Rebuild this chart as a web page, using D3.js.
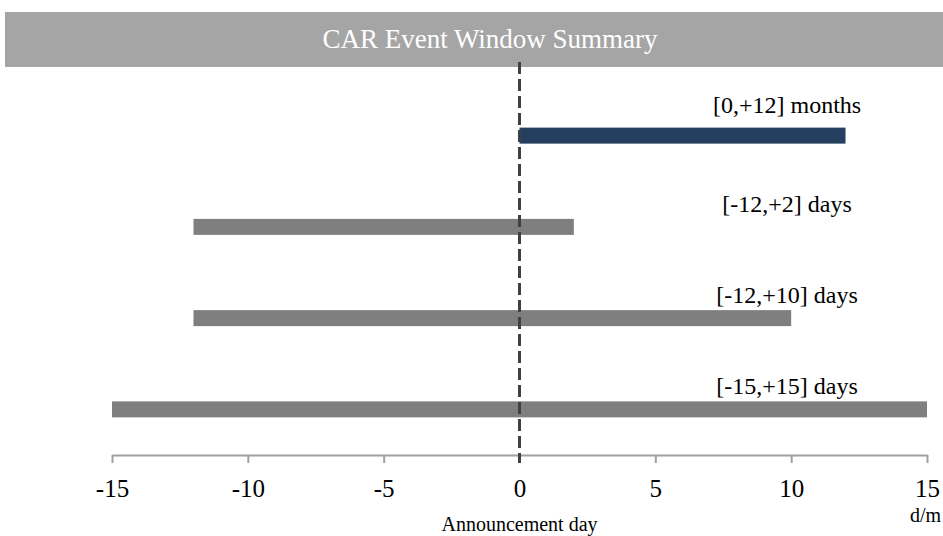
<!DOCTYPE html>
<html>
<head>
<meta charset="utf-8">
<script src="https://cdn.jsdelivr.net/npm/d3@7"></script>
<style>
  html, body { margin: 0; padding: 0; background: #ffffff; }
  svg { display: block; }
</style>
</head>
<body>
<svg id="chart" width="943" height="536"></svg>
<script>
// ---- data ----
const title = "CAR Event Window Summary";
const categories = ["[0,+12] months", "[-12,+2] days", "[-12,+10] days", "[-15,+15] days"];
const windowStart = [0, -12, -12, -15];
const windowEnd = [12, 2, 10, 15];
const tickValues = [-15, -10, -5, 0, 5, 10, 15];
const xAxisTitle = "Announcement day";
const unitLabel = "d/m";

// ---- styles ----
const barColors = ["#243f60", "#7f7f7f", "#7f7f7f", "#7f7f7f"];
const serif = "'Liberation Serif', 'DejaVu Serif', serif";

const svg = d3.select("#chart");
const W = 943, H = 536;

const x = d3.scaleLinear().domain([-15, 15]).range([112, 927]);
const y = d3.scaleBand().domain(categories).range([90, 455]);

// title bar
svg.append("rect").attr("x", 5).attr("y", 12).attr("width", W - 5).attr("height", 55)
  .attr("fill", "#a5a5a5");
svg.append("text").attr("x", 490).attr("y", 48)
  .attr("text-anchor", "middle")
  .attr("font-family", serif)
  .attr("font-size", 27).attr("fill", "#ffffff")
  .text(title);

// bars
const rows = categories.map((c, i) => ({ c, s: windowStart[i], e: windowEnd[i], col: barColors[i] }));
const barH = 16;
svg.selectAll("rect.bar").data(rows).enter().append("rect")
  .attr("class", "bar")
  .attr("x", d => x(d.s))
  .attr("y", d => y(d.c) + y.bandwidth() / 2 - barH / 2)
  .attr("width", d => x(d.e) - x(d.s))
  .attr("height", barH)
  .attr("fill", d => d.col);

// labels
svg.selectAll("text.lbl").data(rows).enter().append("text")
  .attr("class", "lbl")
  .attr("x", x(9.85))
  .attr("y", (d, i) => y(d.c) + y.bandwidth() / 2 - (i === 0 ? 23 : 15))
  .attr("text-anchor", "middle")
  .attr("font-family", serif)
  .attr("font-size", 24)
  .attr("fill", "#000")
  .text(d => d.c);

// x axis
const axisY = 455;
const axis = svg.append("g").attr("transform", `translate(0,${axisY})`)
  .call(d3.axisBottom(x).tickValues(tickValues).tickSize(8).tickSizeOuter(0)
    .tickFormat(d3.format("d")));
axis.select(".domain").attr("stroke", "#a0a0a0").attr("stroke-width", 2);
axis.selectAll(".tick line").attr("stroke", "#a0a0a0").attr("stroke-width", 2);
axis.selectAll(".tick text")
  .attr("y", 42).attr("dy", 0)
  .attr("font-family", serif).attr("font-size", 25).attr("fill", "#000")
  .text(d => d < 0 ? "-" + Math.abs(d) : d);

// dashed zero line
svg.append("line")
  .attr("x1", x(0)).attr("x2", x(0))
  .attr("y1", 62).attr("y2", 463)
  .attr("stroke", "#404040").attr("stroke-width", 3)
  .attr("stroke-dasharray", "12,5");

// axis titles
svg.append("text").attr("x", x(0)).attr("y", 531)
  .attr("text-anchor", "middle")
  .attr("font-family", serif).attr("font-size", 20).attr("fill", "#000")
  .text(xAxisTitle);
svg.append("text").attr("x", 941).attr("y", 522)
  .attr("text-anchor", "end")
  .attr("font-family", serif).attr("font-size", 20).attr("fill", "#000")
  .text(unitLabel);
</script>
</body>
</html>
